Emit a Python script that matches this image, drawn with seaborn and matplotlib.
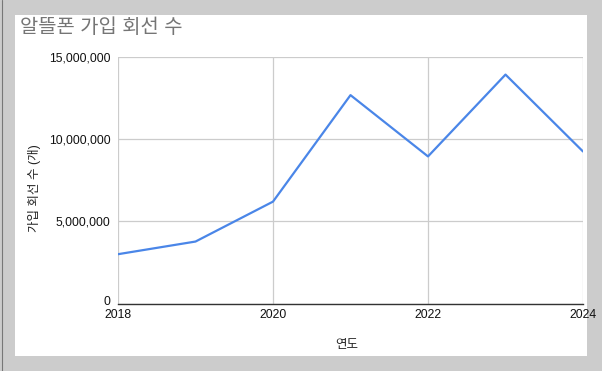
import matplotlib
matplotlib.use("Agg")
import matplotlib.pyplot as plt
import matplotlib.ticker as mticker
import matplotlib.transforms as mtransforms
from matplotlib.patches import Rectangle
import seaborn as sns
import pandas as pd

years = [2018, 2019, 2020, 2021, 2022, 2023, 2024]
subscribers = [3000000, 3770000, 6200000, 12680000, 8950000, 13930000, 9250000]
x_ticks = [2018, 2020, 2022, 2024]
y_ticks = [0, 5000000, 10000000, 15000000]

title = "알뜰폰 가입 회선 수"
x_label = "연도"
y_label = "가입 회선 수 (개)"

sns.set_theme(style="white")
plt.rcParams['font.family'] = ['Liberation Sans', 'Noto Sans CJK KR', 'DejaVu Sans']

W, H = 602, 371
fig = plt.figure(figsize=(W / 100, H / 100), dpi=100)
fig.patch.set_facecolor("#cccccc")
fig.add_artist(Rectangle((15 / W, 1 - 356 / H), (587 - 15) / W, (356 - 15) / H,
                         transform=fig.transFigure, facecolor="white", edgecolor="none", zorder=0))
fig.add_artist(plt.Line2D([2 / W, 2 / W], [0, 1], transform=fig.transFigure, color="#777777", lw=0.8))

ax = fig.add_axes([118 / W, 1 - 303.5 / H, (583 - 118) / W, (303.5 - 57) / H])
ax.set_facecolor("white")

df = pd.DataFrame({"year": years, "value": subscribers})
sns.lineplot(data=df, x="year", y="value", ax=ax, color="#4a86e8", linewidth=1.6, zorder=3)

ax.set_xlim(2018, 2024)
ax.set_ylim(0, 15000000)
ax.set_xticks(x_ticks)
ax.set_yticks(y_ticks)
ax.yaxis.set_major_formatter(mticker.FuncFormatter(lambda v, p: f"{int(v):,}"))
ax.grid(True, color="#cccccc", linewidth=0.9)
for s in ["top", "right", "left"]:
    ax.spines[s].set_visible(False)
ax.spines["bottom"].set_color("#333333")
ax.spines["bottom"].set_linewidth(1.0)
ax.spines["bottom"].set_zorder(4)
ax.tick_params(axis="both", length=0, labelsize=8.8, labelcolor="#111111")
ax.tick_params(axis="x", pad=4)
ax.tick_params(axis="y", pad=5.5)

# nudge the "0" label upward to avoid the x tick labels
ylabels = ax.get_yticklabels()
ylabels[0].set_transform(ylabels[0].get_transform() +
                         mtransforms.ScaledTranslation(0, 3 / 100, fig.dpi_scale_trans))

ax.set_xlabel(x_label, fontsize=9, color="#222222")
ax.set_ylabel(y_label, fontsize=9, color="#222222")
ax.xaxis.set_label_coords(0.492, -0.146)
ax.yaxis.set_label_coords(-0.166, 0.467)

fig.text(20 / W, 1 - 27.5 / H, title, fontsize=14.3, color="#757575", va="center", ha="left")

fig.savefig("out.png", dpi=100, facecolor=fig.get_facecolor())
